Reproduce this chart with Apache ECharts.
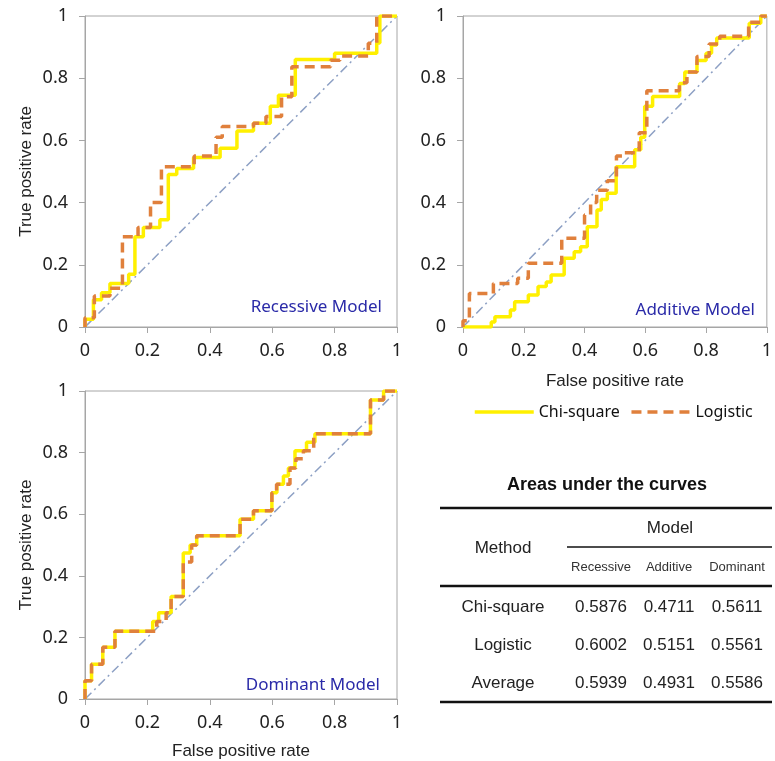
<!DOCTYPE html>
<html>
<head>
<meta charset="utf-8">
<script src="https://cdn.jsdelivr.net/npm/echarts@6/dist/echarts.min.js"></script>
<style>html,body{margin:0;padding:0;background:#fff;}#chart{width:775px;height:761px;}</style>
</head>
<body>
<div id="chart"></div>
<script>
// ROC vertices (FPR, TPR); drawn as step 'end' curves
const recessiveChi = [[0,0],[0,0.025],[0.027,0.088],[0.053,0.11],[0.08,0.14],[0.14,0.17],[0.16,0.29],[0.187,0.32],[0.24,0.345],[0.267,0.49],[0.294,0.51],[0.348,0.545],[0.433,0.575],[0.487,0.63],[0.54,0.655],[0.594,0.71],[0.62,0.745],[0.674,0.86],[0.80,0.88],[0.935,0.913],[0.945,1],[1,1]];
const recessiveLog = [[0,0],[0,0.03],[0.03,0.10],[0.08,0.125],[0.12,0.29],[0.17,0.32],[0.21,0.40],[0.245,0.515],[0.35,0.55],[0.42,0.61],[0.44,0.645],[0.54,0.655],[0.58,0.677],[0.63,0.74],[0.663,0.837],[0.787,0.858],[0.817,0.871],[0.908,0.912],[0.935,1],[1,1]];
const additiveChi = [[0,0],[0.093,0.016],[0.105,0.033],[0.156,0.055],[0.17,0.081],[0.215,0.103],[0.247,0.13],[0.274,0.145],[0.29,0.167],[0.333,0.221],[0.366,0.242],[0.387,0.258],[0.409,0.322],[0.441,0.376],[0.455,0.41],[0.475,0.43],[0.504,0.515],[0.565,0.57],[0.585,0.61],[0.598,0.71],[0.624,0.741],[0.713,0.783],[0.73,0.82],[0.77,0.857],[0.80,0.88],[0.818,0.907],[0.835,0.929],[0.942,0.977],[0.98,1],[1,1]];
const additiveLog = [[0,0],[0,0.02],[0.021,0.108],[0.10,0.14],[0.18,0.157],[0.215,0.205],[0.325,0.285],[0.40,0.36],[0.42,0.40],[0.44,0.44],[0.475,0.47],[0.505,0.55],[0.53,0.56],[0.58,0.625],[0.605,0.76],[0.712,0.785],[0.737,0.82],[0.77,0.87],[0.81,0.91],[0.845,0.935],[0.94,0.98],[0.98,1],[1,1]];
const dominantChi = [[0,0],[0,0.059],[0.021,0.113],[0.057,0.168],[0.096,0.22],[0.217,0.252],[0.236,0.28],[0.276,0.333],[0.315,0.474],[0.337,0.5],[0.358,0.53],[0.497,0.584],[0.54,0.611],[0.599,0.67],[0.615,0.697],[0.636,0.724],[0.652,0.75],[0.673,0.806],[0.71,0.834],[0.737,0.861],[0.915,0.971],[0.957,1],[1,1]];
const dominantLog = [[0,0],[0,0.059],[0.021,0.113],[0.057,0.168],[0.096,0.22],[0.23,0.252],[0.26,0.28],[0.276,0.333],[0.315,0.445],[0.342,0.5],[0.358,0.53],[0.497,0.584],[0.54,0.611],[0.599,0.67],[0.614,0.697],[0.657,0.75],[0.676,0.78],[0.70,0.806],[0.733,0.861],[0.915,0.971],[0.957,1],[1,1]];
const diagonal = [[0,0],[1,1]];
const tickValues = [0, 0.2, 0.4, 0.6, 0.8, 1];
const panelNames = ['Recessive Model', 'Additive Model', 'Dominant Model'];
const methods = ['Chi-square', 'Logistic', 'Average'];
const modelNames = ['Recessive', 'Additive', 'Dominant'];
const aucChi = ['0.5876', '0.4711', '0.5611'];
const aucLog = ['0.6002', '0.5151', '0.5561'];
const aucAvg = ['0.5939', '0.4931', '0.5586'];

const YELLOW = '#FFF000', ORANGE = '#E0803C', DIAG = '#8DA0C4', AXIS = '#A6A6A6', NOTE = '#2A2AA8';
const LBL = 'Noto Sans', ARIAL = 'Liberation Sans';

const grids = [
  {left: 85, top: 16, width: 312, height: 311},
  {left: 463, top: 16, width: 310, height: 311},
  {left: 85, top: 391, width: 312, height: 311}
].map(g => Object.assign({show: true, borderColor: AXIS, borderWidth: 1}, g));

function fmt(v){ return String(Math.round(v * 10) / 10); }

const xNames = ['', 'False positive rate', 'False positive rate'];
const xGaps = [0, 46, 44];
const xAxes = grids.map((g, i) => ({
  type: 'value', gridIndex: i, min: 0, max: 1, interval: 0.2,
  name: xNames[i], nameLocation: 'middle', nameGap: xGaps[i],
  nameTextStyle: {fontFamily: ARIAL, fontSize: 17, color: '#222'},
  axisLine: {show: true, lineStyle: {color: AXIS, width: 1}},
  axisTick: {show: true, length: 6, lineStyle: {color: AXIS}},
  splitLine: {show: false},
  axisLabel: {fontFamily: LBL, fontSize: 18, color: '#222', margin: 15, formatter: fmt, showMaxLabel: true, showMinLabel: true}
}));
const yNames = ['True positive rate', '', 'True positive rate'];
const yAxes = grids.map((g, i) => ({
  type: 'value', gridIndex: i, min: 0, max: 1, interval: 0.2,
  name: yNames[i], nameLocation: 'middle', nameGap: 50,
  nameTextStyle: {fontFamily: ARIAL, fontSize: 17, color: '#222'},
  axisLine: {show: true, lineStyle: {color: AXIS, width: 1}},
  axisTick: {show: true, length: 6, lineStyle: {color: AXIS}},
  splitLine: {show: false},
  axisLabel: {fontFamily: LBL, fontSize: 18, color: '#222', margin: 17, formatter: fmt}
}));

const chiSets = [recessiveChi, additiveChi, dominantChi];
const logSets = [recessiveLog, additiveLog, dominantLog];
const series = [];
for (let i = 0; i < 3; i++) {
  series.push({type: 'line', name: 'diag', xAxisIndex: i, yAxisIndex: i, data: diagonal, symbol: 'none', silent: true,
    lineStyle: {color: DIAG, width: 1.5, type: [9, 4, 2, 4]}, z: 2});
  series.push({type: 'line', name: 'Chi-square', xAxisIndex: i, yAxisIndex: i, data: chiSets[i], step: 'end', symbol: 'none',
    itemStyle: {color: YELLOW}, lineStyle: {color: YELLOW, width: 3.5}, z: 3});
  series.push({type: 'line', name: 'Logistic', xAxisIndex: i, yAxisIndex: i, data: logSets[i], step: 'end', symbol: 'none',
    itemStyle: {color: ORANGE}, lineStyle: {color: ORANGE, width: 3.5, type: [10, 6]}, z: 4});
}

// annotations and table
const graphic = [];
const notePos = [[382, 307], [755, 310], [380, 685]];
panelNames.forEach((t, i) => graphic.push({type: 'text', style: {text: t, x: notePos[i][0], y: notePos[i][1], textAlign: 'right', textVerticalAlign: 'middle', font: '17px "Noto Sans"', fill: NOTE}}));

const TL = 440, TR = 772;
const colX = [601, 669, 737];
graphic.push({type: 'text', style: {text: 'Areas under the curves', x: 607, y: 485, textAlign: 'center', textVerticalAlign: 'middle', font: 'bold 18px "Liberation Sans"', fill: '#111'}});
graphic.push({type: 'line', shape: {x1: TL, y1: 508, x2: TR, y2: 508}, style: {stroke: '#111', lineWidth: 2.5}});
graphic.push({type: 'text', style: {text: 'Model', x: 670, y: 528, textAlign: 'center', textVerticalAlign: 'middle', font: '17px "Liberation Sans"', fill: '#222'}});
graphic.push({type: 'line', shape: {x1: 567, y1: 547, x2: TR, y2: 547}, style: {stroke: '#111', lineWidth: 1.5}});
graphic.push({type: 'text', style: {text: 'Method', x: 503, y: 548, textAlign: 'center', textVerticalAlign: 'middle', font: '17px "Liberation Sans"', fill: '#222'}});
modelNames.forEach((m, j) => graphic.push({type: 'text', style: {text: m, x: colX[j], y: 567, textAlign: 'center', textVerticalAlign: 'middle', font: '13px "Liberation Sans"', fill: '#333'}}));
graphic.push({type: 'line', shape: {x1: TL, y1: 586, x2: TR, y2: 586}, style: {stroke: '#111', lineWidth: 2.5}});
const rows = [aucChi, aucLog, aucAvg];
const rowY = [607, 645, 683];
methods.forEach((m, r) => {
  graphic.push({type: 'text', style: {text: m, x: 503, y: rowY[r], textAlign: 'center', textVerticalAlign: 'middle', font: '17px "Liberation Sans"', fill: '#222'}});
  rows[r].forEach((v, j) => graphic.push({type: 'text', style: {text: v, x: colX[j], y: rowY[r], textAlign: 'center', textVerticalAlign: 'middle', font: '17px "Liberation Sans"', fill: '#222'}}));
});
graphic.push({type: 'line', shape: {x1: TL, y1: 702, x2: TR, y2: 702}, style: {stroke: '#111', lineWidth: 2.5}});

const chart = echarts.init(document.getElementById('chart'), null, {renderer: 'canvas'});
chart.setOption({
  backgroundColor: '#fff',
  animation: false,
  grid: grids,
  xAxis: xAxes,
  yAxis: yAxes,
  legend: {data: ['Chi-square', 'Logistic'], left: 468, top: 399, itemWidth: 59, itemHeight: 14, itemGap: 10,
    itemStyle: {opacity: 0},
    lineStyle: {width: 3.5},
    textStyle: {fontFamily: LBL, fontSize: 16, color: '#111'}},
  series: series,
  graphic: graphic
});
</script>
</body>
</html>
